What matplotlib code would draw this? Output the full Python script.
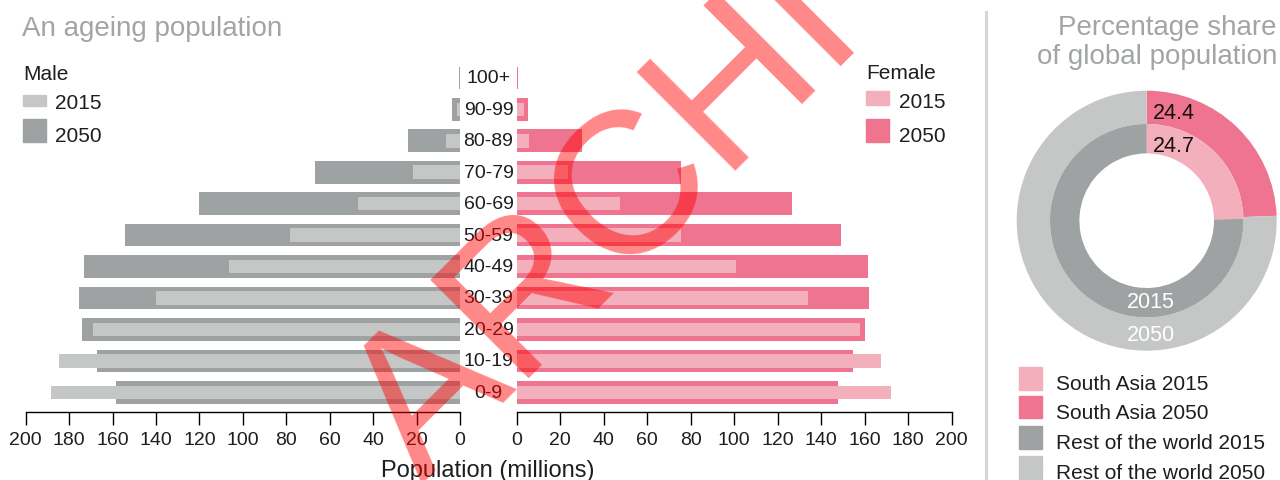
import numpy as np
import matplotlib
matplotlib.use('Agg')
import matplotlib.pyplot as plt
import matplotlib.transforms as mtransforms
from matplotlib.patches import Rectangle

plt.rcParams['font.family'] = ['Liberation Sans', 'DejaVu Sans']

# data (millions), bottom row first
ages = ['0-9', '10-19', '20-29', '30-39', '40-49', '50-59', '60-69',
        '70-79', '80-89', '90-99', '100+']
male_2015 = [188.5, 184.8, 169, 140, 106.5, 78.3, 47, 21.7, 6.4, 1.4, 0.1]
male_2050 = [158.5, 167.3, 174.2, 175.6, 173.3, 154.4, 120.3, 66.8, 24, 3.7, 0.4]
female_2015 = [172, 167.5, 157.9, 134, 100.8, 75.5, 47.5, 23.6, 5.7, 3.4, 0.1]
female_2050 = [147.7, 154.6, 160.2, 162, 161.5, 149, 126.6, 75.5, 30, 5.2, 0.5]
ticks = [0, 20, 40, 60, 80, 100, 120, 140, 160, 180, 200]

share_labels = ['South Asia', 'Rest of the world']
share_2015 = [24.7, 75.3]
share_2050 = [24.4, 75.6]

GREY_D = '#9fa2a3'
GREY_L = '#c5c7c6'
PINK_D = '#ee7490'
PINK_L = '#f4afbd'
TITLE_C = '#a2a5a6'
TXT = '#1e1e1e'

W, H = 1280, 481
fig = plt.figure(figsize=(W / 100, H / 100), dpi=100)


def fx(x):
    return x / W


def fy(y):
    return 1 - y / H


def setup(ax):
    for s in ['top', 'left', 'right']:
        ax.spines[s].set_visible(False)
    ax.spines['bottom'].set_linewidth(1.0)
    ax.set_yticks([])
    ax.set_xticks(ticks)
    ax.tick_params(axis='x', length=9.5, width=1.0, pad=4, labelsize=14,
                   labelcolor=TXT)
    ax.set_ylim(-0.636, 10.5)
    ax.set_facecolor('none')


bottom, height = fy(413.3), 350.1 / H
y = np.arange(len(ages))

axl = fig.add_axes([fx(25.7), bottom, 434.3 / W, height])
axl.barh(y, male_2050, height=0.72, color=GREY_D)
axl.barh(y, male_2015, height=0.43, color=GREY_L)
axl.set_xlim(200, 0)
setup(axl)

axr = fig.add_axes([fx(516.7), bottom, 435 / W, height])
axr.barh(y, female_2050, height=0.72, color=PINK_D)
axr.barh(y, female_2015, height=0.43, color=PINK_L)
axr.set_xlim(0, 200)
setup(axr)

# age labels in the gap
tr = mtransforms.blended_transform_factory(fig.transFigure, axl.transData)
for i, a in enumerate(ages):
    axl.text(fx(488.5), i, a, transform=tr, ha='center', va='center',
             fontsize=14, color=TXT, clip_on=False)

fig.text(fx(488), fy(476.7), 'Population (millions)', ha='center',
         va='baseline', fontsize=17, color=TXT)

# titles
fig.text(fx(22), fy(36.5), 'An ageing population', fontsize=20,
         color=TITLE_C, va='baseline')
fig.text(fx(1277), fy(35), 'Percentage share', fontsize=20,
         color=TITLE_C, va='baseline', ha='right')
fig.text(fx(1277), fy(63.5), 'of global population', fontsize=20,
         color=TITLE_C, va='baseline', ha='right')


def patch(x0, y0, x1, y1, c):
    fig.patches.append(Rectangle((fx(x0), fy(y1)), fx(x1 - x0),
                                 (y1 - y0) / H, color=c,
                                 transform=fig.transFigure, figure=fig))


# pyramid legends
fig.text(fx(23), fy(80), 'Male', fontsize=15, color=TXT, va='baseline')
patch(23, 95.7, 46, 106.7, GREY_L)
patch(23, 120, 46, 143.3, GREY_D)
fig.text(fx(55), fy(109), '2015', fontsize=15, color=TXT, va='baseline')
fig.text(fx(55), fy(141.7), '2050', fontsize=15, color=TXT, va='baseline')

fig.text(fx(866), fy(79.3), 'Female', fontsize=15, color=TXT, va='baseline')
patch(866, 92.3, 889, 105.7, PINK_L)
patch(866, 120, 889, 142.7, PINK_D)
fig.text(fx(899), fy(108), '2015', fontsize=15, color=TXT, va='baseline')
fig.text(fx(899), fy(141.7), '2050', fontsize=15, color=TXT, va='baseline')

# separator
fig.add_artist(plt.Line2D([fx(986), fx(986)], [fy(13), 0], color='#d3d7da',
                          lw=2.2))

# donut
cx, cy, R = 1146.7, 221.7, 130.0
half = 140
axd = fig.add_axes([fx(cx - half), fy(cy + half), 2 * half / W, 2 * half / H])
axd.pie(share_2050, radius=1.0, colors=[PINK_D, GREY_L], startangle=90,
        counterclock=False, wedgeprops=dict(width=33.3 / R, linewidth=0))
axd.pie(share_2015, radius=96.7 / R, colors=[PINK_L, GREY_D], startangle=90,
        counterclock=False, wedgeprops=dict(width=29.4 / R, linewidth=0))
axd.set_xlim(-half / R, half / R)
axd.set_ylim(-half / R, half / R)
axd.set_aspect('auto')
axd.axis('off')

fig.text(fx(1153), fy(119.3), f'{share_2050[0]}', fontsize=15.5, color='#111111',
         va='baseline')
fig.text(fx(1153), fy(151.7), f'{share_2015[0]}', fontsize=15.5, color='#111111',
         va='baseline')
fig.text(fx(1151), fy(308.3), '2015', fontsize=15.5, color='white',
         va='baseline', ha='center')
fig.text(fx(1151), fy(340.7), '2050', fontsize=15.5, color='white',
         va='baseline', ha='center')

# donut legend
leg = [(share_labels[0] + ' 2015', PINK_L, 368, 390.7),
       (share_labels[0] + ' 2050', PINK_D, 396.7, 419.3),
       (share_labels[1] + ' 2015', GREY_D, 427, 449.7),
       (share_labels[1] + ' 2050', GREY_L, 457, 480)]
for lab, c, y0, y1 in leg:
    patch(1019, y0, 1042, y1, c)
    fig.text(fx(1056), fy(y1 - 0.5), lab, fontsize=15, color=TXT,
             va='baseline')

# archive stamp
fig.text(fx(422), fy(485), 'ARCHIVE', fontsize=146, color='#ff0000',
         alpha=0.47, rotation=45, ha='left', va='baseline',
         rotation_mode='anchor', zorder=10)

fig.savefig('out.png', dpi=100)
